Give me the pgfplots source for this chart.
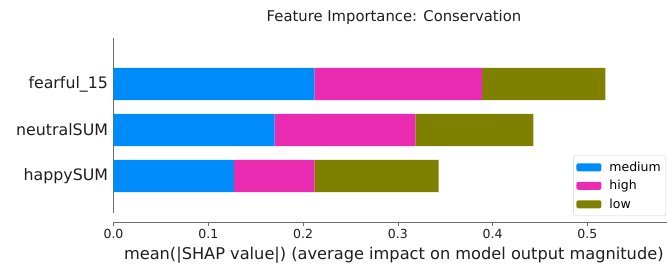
\documentclass[border=0pt]{standalone}
\usepackage{fontspec}
\setmainfont{DejaVu Sans}
\usepackage{pgfplots}
\pgfplotsset{compat=1.18}
\definecolor{cmed}{RGB}{0,139,251}
\definecolor{chigh}{RGB}{234,43,178}
\definecolor{clow}{RGB}{128,128,0}
\definecolor{spine}{RGB}{110,110,110}
\definecolor{txt}{RGB}{30,30,30}
\begin{document}
\begin{tikzpicture}
\useasboundingbox (-113.5pt,-42pt) rectangle (553.5pt,222pt);
\begin{axis}[
  at={(0,0)}, anchor=south west,
  scale only axis, width=553.5pt, height=184pt,
  xmin=0, xmax=0.584, ymin=-1, ymax=3,
  xbar stacked, bar width=0.7,
  axis x line*=bottom, axis y line*=left,
  axis line style={draw=none},
  xtick={0,0.1,0.2,0.3,0.4,0.5},
  xticklabels={0.0,0.1,0.2,0.3,0.4,0.5},
  ytick={0,1,2}, yticklabels={happySUM,neutralSUM,fearful\_15},
  /pgf/number format/assume math mode=true,
  x tick style={draw=spine, thin},
  major tick length=4pt,
  xtick align=outside,
  y tick style={draw=none},
  xticklabel style={font=\fontsize{12.5}{14}\selectfont, text=txt},
  yticklabel style={font=\fontsize{15.8}{18}\selectfont, text=txt, xshift=-2pt},
  xlabel={mean(|SHAP value|) (average impact on model output magnitude)},
  xlabel style={font=\fontsize{16.2}{18}\selectfont, text=txt, at={(rel axis cs:0,0)}, anchor=north west, xshift=7pt, yshift=-22pt},
  title={Feature Importance: Conservation},
  title style={font=\fontsize{14.8}{17}\selectfont, text=txt, at={(280.5pt,184pt)}, anchor=south, yshift=4pt},
  legend style={at={(rel axis cs:1,0)}, anchor=south east, xshift=-1pt, yshift=6pt, draw=gray!35, rounded corners=2pt, font=\fontsize{12.5}{14}\selectfont, row sep=3.5pt, inner xsep=3pt, inner ysep=4pt},
  legend cell align=left,
  legend image code/.code={\fill[#1] (0pt,-4pt) rectangle (25pt,4pt); \path (31pt,0pt);},
  clip=false,
]
\addplot[fill=cmed, draw=none] coordinates {(0.127,0) (0.170,1) (0.212,2)};
\addplot[fill=chigh, draw=none] coordinates {(0.085,0) (0.1485,1) (0.177,2)};
\addplot[fill=clow, draw=none] coordinates {(0.131,0) (0.1245,1) (0.130,2)};
\legend{medium,high,low}
\draw[spine, thin] (rel axis cs:0,0.05) -- (rel axis cs:0,1);
\draw[spine, thin] (rel axis cs:0,0) -- (rel axis cs:1,0);
\end{axis}
\end{tikzpicture}
\end{document}
